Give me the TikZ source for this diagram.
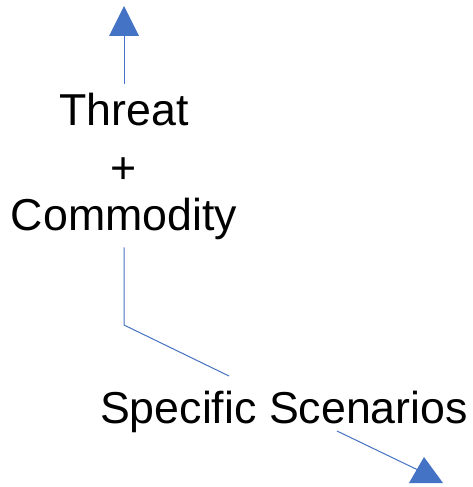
\documentclass[tikz,border=0pt]{standalone}
\usepackage{fontspec}
\setmainfont{Liberation Sans}
\definecolor{accentblue}{HTML}{4472C4}
\tikzset{
  label text/.style={font=\fontsize{44.7}{53}\selectfont, inner xsep=2pt, inner ysep=8pt, anchor=base},
  link/.style={draw=accentblue, line width=1pt},
  tip/.style={fill=accentblue}
}
\begin{document}
\begin{tikzpicture}[x=1pt, y=-1pt]
  \useasboundingbox (0, 0) rectangle (473, 487);

  % Stacked labels
  \node[label text] (threat) at (124, 125) {Threat};
  \node[label text] (plus) at (124, 183) {+};
  \node[label text] (commodity) at (124, 230) {Commodity};
  \node[label text] (scenarios) at (284, 423) {Specific Scenarios};

  % Arrow going up
  \coordinate (uptip) at (124, 36);
  \draw[link] (threat.north) -- (uptip);
  \fill[tip] (124, 6) -- (139, 36) -- (109, 36) -- cycle;

  % Bent link down to the scenarios
  \coordinate (bend) at (124, 325);
  \coordinate (scenin) at (229, 376);
  \draw[link] (commodity.south) -- (bend) -- (scenin);

  % Arrow going out
  \coordinate (scenout) at (337, 431);
  \coordinate (downtip) at (418, 470);
  \draw[link] (scenout) -- (downtip);
  \fill[tip] (424, 457) -- (443, 483) -- (409, 483) -- cycle;
\end{tikzpicture}
\end{document}
